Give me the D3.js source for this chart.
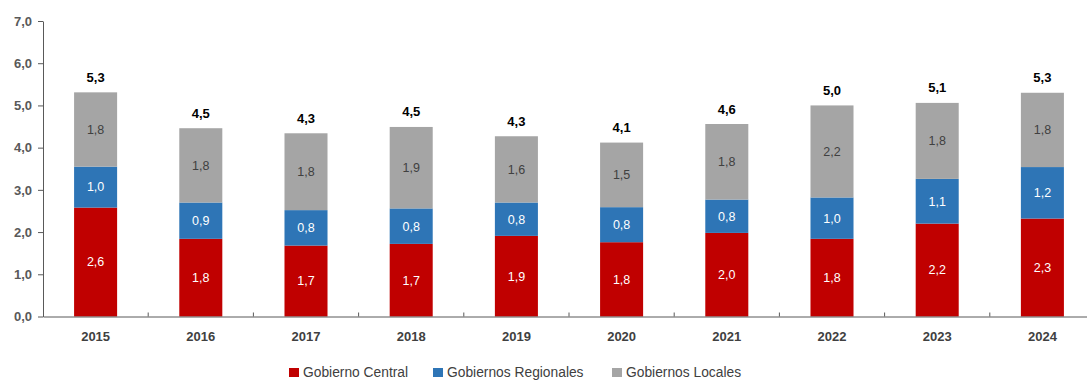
<!DOCTYPE html>
<html>
<head>
<meta charset="utf-8">
<script src="https://cdn.jsdelivr.net/npm/d3@7"></script>
<style>
  body { margin: 0; background: #fff; }
  svg { display: block; font-family: "Liberation Sans", Arial, sans-serif; }
</style>
</head>
<body>
<svg id="chart" width="1087" height="380"></svg>
<script>
const years = ["2015","2016","2017","2018","2019","2020","2021","2022","2023","2024"];
const central   = [2.58, 1.84, 1.68, 1.72, 1.91, 1.76, 1.98, 1.84, 2.20, 2.32];
const regionales = [0.97, 0.86, 0.84, 0.84, 0.79, 0.83, 0.79, 0.98, 1.06, 1.22];
const locales   = [1.76, 1.76, 1.82, 1.93, 1.57, 1.53, 1.79, 2.18, 1.80, 1.76];
const seriesNames = ["Gobierno Central", "Gobiernos Regionales", "Gobiernos Locales"];
const yTicks = [0, 1, 2, 3, 4, 5, 6, 7];

const colors = ["#C00000", "#2E75B6", "#A5A5A5"];
const labelColors = ["#ffffff", "#ffffff", "#404040"];
const fmt = v => v.toFixed(1).replace(".", ",");

const svg = d3.select("#chart");
const axisColor = "#595959";

const data = years.map((y, i) => ({year: y, s0: central[i], s1: regionales[i], s2: locales[i]}));
const stack = d3.stack().keys(["s0", "s1", "s2"]);
const stacked = stack(data);

const x = d3.scaleBand().domain(years).range([43, 1095]).paddingInner(0.591).paddingOuter(0.2955);
const y = d3.scaleLinear().domain([0, 7]).range([316.5, 21]);

// bars
stacked.forEach((layer, li) => {
  svg.append("g").selectAll("rect").data(layer).join("rect")
    .attr("x", d => x(d.data.year))
    .attr("width", x.bandwidth())
    .attr("y", d => y(d[1]))
    .attr("height", d => y(d[0]) - y(d[1]))
    .attr("fill", colors[li]);
  svg.append("g").selectAll("text").data(layer).join("text")
    .attr("x", d => x(d.data.year) + x.bandwidth() / 2)
    .attr("y", d => (y(d[0]) + y(d[1])) / 2)
    .attr("dy", "0.35em")
    .attr("text-anchor", "middle")
    .attr("font-size", 12.5)
    .attr("fill", labelColors[li])
    .text(d => fmt(d[1] - d[0]));
});

// totals
svg.append("g").selectAll("text").data(data).join("text")
  .attr("x", d => x(d.year) + x.bandwidth() / 2)
  .attr("y", d => y(d.s0 + d.s1 + d.s2) - 10.5)
  .attr("text-anchor", "middle")
  .attr("font-size", 13)
  .attr("font-weight", "bold")
  .attr("fill", "#000")
  .text(d => fmt(d.s0 + d.s1 + d.s2));

// y axis
const yAxis = d3.axisLeft(y).tickValues(yTicks).tickSize(5).tickSizeOuter(0).tickPadding(6)
  .tickFormat(d => fmt(d));
const gy = svg.append("g").attr("transform", "translate(43,0)").call(yAxis);
gy.select(".domain").attr("stroke", axisColor);
gy.selectAll(".tick line").attr("stroke", axisColor);
gy.selectAll(".tick text").attr("fill", axisColor).attr("font-size", 13).attr("font-weight", "bold")
  .attr("font-family", "Liberation Sans, Arial, sans-serif");

// x axis
const xAxis = d3.axisBottom(x).tickSize(0).tickPadding(23);
const gx = svg.append("g").attr("transform", `translate(0,${y(0)})`).call(xAxis);
gx.select(".domain").attr("stroke", axisColor);
gx.selectAll(".tick text").attr("fill", "#404040").attr("font-size", 13).attr("font-weight", "bold")
  .attr("font-family", "Liberation Sans, Arial, sans-serif").attr("dy", "0.1em");
// category separator ticks (inside)
const sepPositions = years.slice(1).map(yr => x(yr) - x.step() * x.paddingInner() / 2);
svg.append("g").selectAll("line").data(sepPositions).join("line")
  .attr("x1", d => d).attr("x2", d => d)
  .attr("y1", y(0) - 4).attr("y2", y(0))
  .attr("stroke", axisColor);

// legend
const legendX = [289, 433, 612];
const lg = svg.append("g");
seriesNames.forEach((n, i) => {
  lg.append("rect").attr("x", legendX[i]).attr("y", 368).attr("width", 10).attr("height", 9).attr("fill", colors[i]);
  lg.append("text").attr("x", legendX[i] + 14).attr("y", 377)
    .attr("font-size", 13.8).attr("fill", "#404040").text(n);
});
</script>
</body>
</html>
